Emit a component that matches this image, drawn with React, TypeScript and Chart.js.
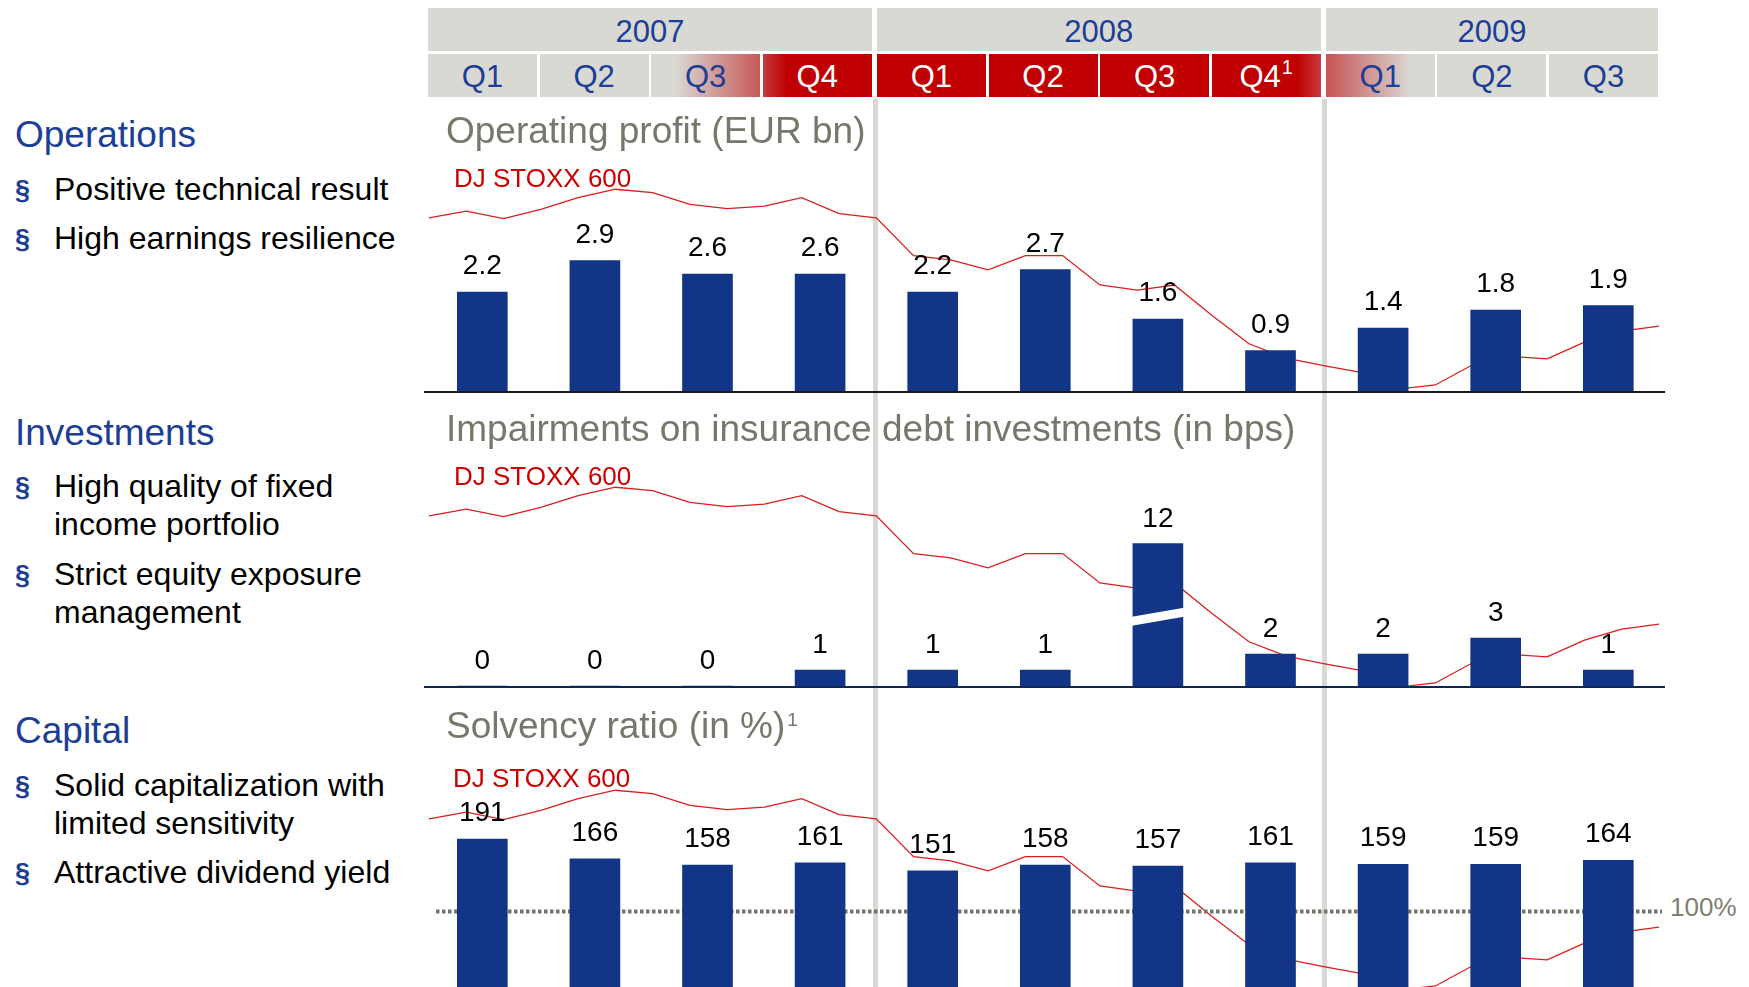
import React, { useEffect, useRef } from "react";
import { Chart, registerables } from "chart.js";

Chart.register(...registerables);

// ---------------- data ----------------
const years = ["2007", "2008", "2009"];
const quarters = ["Q1", "Q2", "Q3", "Q4", "Q1", "Q2", "Q3", "Q4", "Q1", "Q2", "Q3"];
const quarterNotes = ["", "", "", "", "", "", "", "1", "", "", ""];
const quarterYear = [0, 0, 0, 0, 1, 1, 1, 1, 2, 2, 2];
const categories = quarters.map((q, i) => `${years[quarterYear[i]]} ${q}`);

const operatingProfit = [2.2, 2.9, 2.6, 2.6, 2.2, 2.7, 1.6, 0.9, 1.4, 1.8, 1.9];
const impairments = [0, 0, 0, 1, 1, 1, 12, 2, 2, 3, 1];
const solvency = [191, 166, 158, 161, 151, 158, 157, 161, 159, 159, 164];
const solvencyThreshold = 100;
const impairmentAxisBreakCap = 8.9;

const djMonths = [
  "Dec 06",
  "Jan 07", "Feb 07", "Mar 07", "Apr 07", "May 07", "Jun 07", "Jul 07", "Aug 07", "Sep 07", "Oct 07", "Nov 07", "Dec 07",
  "Jan 08", "Feb 08", "Mar 08", "Apr 08", "May 08", "Jun 08", "Jul 08", "Aug 08", "Sep 08", "Oct 08", "Nov 08", "Dec 08",
  "Jan 09", "Feb 09", "Mar 09", "Apr 09", "May 09", "Jun 09", "Jul 09", "Aug 09", "Sep 09",
];
const djStoxx600 = [
  365,
  373, 364, 375, 389, 399, 395, 381, 376, 379, 389, 370, 365,
  320, 315, 303, 320, 320, 285, 279, 285, 249, 215, 198, 189,
  181, 161, 166, 190, 200, 197, 217, 230, 236,
];

// ---------------- layout / style ----------------
const PAGE_W = 1749;
const PAGE_H = 987;
const PLOT_LEFT = 426;
const PLOT_RIGHT = 1664.6;
const CANVAS_LEFT = 420;
const CANVAS_W = 1250;
const FONT = '"Liberation Sans", Arial, Helvetica, sans-serif';
const BAR_COLOR = "#133587";
const LINE_COLOR = "#d81e1e";
const HDR_GREY = "#d9d9d4";
const HDR_RED = "#c00000";
const BLUE = "#1d3e95";
const TITLE_GREY = "#77776b";
const DJ_RED = "#cc0000";
const DJ_REF = 160;
const DJ_PX_PER_UNIT = 0.84;

type PanelSpec = {
  values: number[];
  cap?: number;
  decimals: number;
  canvasTop: number;
  canvasH: number;
  areaTop: number;
  areaBottom: number;
  pxPerUnit: number;
  djRefY: number;
  labelGap: number;
  baseline?: string;
  threshold?: number;
};

const panels: PanelSpec[] = [
  {
    values: operatingProfit, decimals: 1, canvasTop: 95, canvasH: 305, areaTop: 100, areaBottom: 391,
    pxPerUnit: 45, djRefY: 390, labelGap: 18, baseline: "#1b1b1b",
  },
  {
    values: impairments, cap: impairmentAxisBreakCap, decimals: 0, canvasTop: 390, canvasH: 310, areaTop: 395,
    areaBottom: 686, pxPerUnit: 16, djRefY: 688, labelGap: 17, baseline: "#0e2656",
  },
  {
    values: solvency, decimals: 0, canvasTop: 685, canvasH: 310, areaTop: 690, areaBottom: 990,
    pxPerUnit: 0.79, djRefY: 991, labelGap: 18, threshold: solvencyThreshold,
  },
];

function padding(spec: PanelSpec) {
  return {
    left: PLOT_LEFT - CANVAS_LEFT,
    right: CANVAS_LEFT + CANVAS_W - PLOT_RIGHT,
    top: spec.areaTop - spec.canvasTop,
    bottom: spec.canvasTop + spec.canvasH - spec.areaBottom,
  };
}

const canvasStyle = (spec: PanelSpec): React.CSSProperties => ({
  position: "absolute",
  left: CANVAS_LEFT,
  top: spec.canvasTop,
  width: CANVAS_W,
  height: spec.canvasH,
});

function LinePanel({ spec }: { spec: PanelSpec }) {
  const ref = useRef<HTMLCanvasElement>(null);
  useEffect(() => {
    const canvas = ref.current;
    if (!canvas) return;
    const djMin = DJ_REF - (spec.areaBottom - spec.djRefY) / DJ_PX_PER_UNIT;
    const djMax = DJ_REF + (spec.djRefY - spec.areaTop) / DJ_PX_PER_UNIT;
    const monthStep = 1230 / (djMonths.length - 1);
    const xMin = -(429 - PLOT_LEFT) / monthStep;
    const xMax = djMonths.length - 1 + (PLOT_RIGHT - 1659) / monthStep;
    const chart = new Chart(canvas, {
      type: "line",
      data: {
        datasets: [
          {
            label: "DJ STOXX 600",
            data: djStoxx600.map((v, i) => ({ x: i, y: v })),
            borderColor: LINE_COLOR,
            borderWidth: 1.3,
            pointRadius: 0,
            tension: 0,
            fill: false,
            clip: false,
          } as any,
        ],
      },
      options: {
        responsive: false,
        animation: false,
        devicePixelRatio: 1,
        events: [],
        layout: { padding: padding(spec), autoPadding: false },
        plugins: { legend: { display: false }, tooltip: { enabled: false } },
        scales: {
          x: { type: "linear", display: false, min: xMin, max: xMax, offset: false },
          y: { type: "linear", display: false, min: djMin, max: djMax },
        },
      } as any,
    });
    return () => chart.destroy();
  }, []);
  return <canvas ref={ref} width={CANVAS_W} height={spec.canvasH} style={canvasStyle(spec)} />;
}

function BarPanel({ spec }: { spec: PanelSpec }) {
  const ref = useRef<HTMLCanvasElement>(null);
  useEffect(() => {
    const canvas = ref.current;
    if (!canvas) return;
    const yMax = (spec.areaBottom - spec.areaTop) / spec.pxPerUnit;
    const shown = spec.values.map((v) => (spec.cap != null ? Math.min(v, spec.cap) : v));
    const ox = CANVAS_LEFT;

    const decor = {
      id: "panelDecor",
      beforeDatasetsDraw(chart: any) {
        if (spec.threshold == null) return;
        const ctx = chart.ctx;
        const y = chart.scales.y.getPixelForValue(spec.threshold) + 0.5;
        ctx.save();
        ctx.setLineDash([3.5, 2.5]);
        ctx.lineWidth = 4;
        ctx.strokeStyle = "#74746a";
        ctx.beginPath();
        ctx.moveTo(436 - ox, y);
        ctx.lineTo(1662 - ox, y);
        ctx.stroke();
        ctx.restore();
      },
      afterDatasetsDraw(chart: any) {
        const ctx = chart.ctx;
        const ys = chart.scales.y;
        const meta = chart.getDatasetMeta(0);
        ctx.save();
        if (spec.baseline) {
          ctx.fillStyle = spec.baseline;
          ctx.fillRect(424 - ox, ys.getPixelForValue(0), 1665 - 424, 2);
        }
        if (spec.cap != null) {
          spec.values.forEach((v, i) => {
            if (v <= (spec.cap as number)) return;
            const el = meta.data[i];
            const xl = el.x - el.width / 2 - 1;
            const xr = el.x + el.width / 2 + 1;
            ctx.fillStyle = "#ffffff";
            ctx.beginPath();
            ctx.moveTo(xl, ys.getPixelForValue(3.77));
            ctx.lineTo(xr, ys.getPixelForValue(4.33));
            ctx.lineTo(xr, ys.getPixelForValue(4.89));
            ctx.lineTo(xl, ys.getPixelForValue(4.33));
            ctx.closePath();
            ctx.fill();
          });
        }
        ctx.fillStyle = "#000000";
        ctx.font = `28px ${FONT}`;
        ctx.textAlign = "center";
        ctx.textBaseline = "alphabetic";
        spec.values.forEach((v, i) => {
          const el = meta.data[i];
          ctx.fillText(v.toFixed(spec.decimals), el.x, el.y - spec.labelGap);
        });
        ctx.restore();
      },
    };

    const chart = new Chart(canvas, {
      type: "bar",
      data: {
        labels: categories,
        datasets: [
          {
            data: shown,
            backgroundColor: BAR_COLOR,
            borderWidth: 0,
            barThickness: 50,
          } as any,
        ],
      },
      options: {
        responsive: false,
        animation: false,
        devicePixelRatio: 1,
        events: [],
        layout: { padding: padding(spec), autoPadding: false },
        plugins: { legend: { display: false }, tooltip: { enabled: false } },
        scales: {
          x: { type: "category", display: false, offset: true, grid: { offset: true } },
          y: { type: "linear", display: false, min: 0, max: yMax },
        },
      } as any,
      plugins: [decor],
    });
    return () => chart.destroy();
  }, []);
  return <canvas ref={ref} width={CANVAS_W} height={spec.canvasH} style={canvasStyle(spec)} />;
}

function Txt(props: {
  x: number; base: number; size: number; color: string; children: React.ReactNode;
  width?: number; align?: "left" | "center"; weight?: string;
}) {
  const { x, base, size, color, children, width, align, weight } = props;
  return (
    <div
      style={{
        position: "absolute",
        left: x,
        top: base - 0.8465 * size,
        width,
        fontSize: size,
        lineHeight: `${size}px`,
        color,
        whiteSpace: "nowrap",
        textAlign: align || "left",
        fontWeight: weight || "normal",
      }}
    >
      {children}
    </div>
  );
}

const cellLeft = (i: number) => 428 + 111.6 * i + 2.5 * quarterYear[i];
const CELL_W = 109;

function headerFill(i: number): string {
  if (i === 2) return `linear-gradient(to right, ${HDR_GREY} 22%, #c75959 100%)`;
  if (i === 3) return `linear-gradient(to right, #c33c3c 0%, ${HDR_RED} 22%)`;
  if (i >= 4 && i <= 6) return HDR_RED;
  if (i === 7) return `linear-gradient(to right, ${HDR_RED} 78%, #c73c3c 100%)`;
  if (i === 8) return `linear-gradient(to right, #c75252 0%, ${HDR_GREY} 78%)`;
  return HDR_GREY;
}

const sections = [
  { title: "Operations", base: 147, bullets: [{ base: 200, lines: ["Positive technical result"] }, { base: 249, lines: ["High earnings resilience"] }] },
  { title: "Investments", base: 445, bullets: [{ base: 497, lines: ["High quality of fixed", "income portfolio"] }, { base: 585, lines: ["Strict equity exposure", "management"] }] },
  { title: "Capital", base: 743, bullets: [{ base: 796, lines: ["Solid capitalization with", "limited sensitivity"] }, { base: 883, lines: ["Attractive dividend yield"] }] },
];

export default function App() {
  return (
    <div
      style={{
        position: "fixed",
        left: 0,
        top: 0,
        width: PAGE_W,
        height: PAGE_H,
        overflow: "hidden",
        background: "#ffffff",
        fontFamily: FONT,
      }}
    >
      {/* year dividers */}
      <div style={{ position: "absolute", left: 873, top: 99, width: 5, height: 900, background: "#d8d8d4" }} />
      <div style={{ position: "absolute", left: 1321.5, top: 99, width: 5, height: 900, background: "#d8d8d4" }} />

      {/* header years */}
      {years.map((y, yi) => {
        const idx = quarterYear.map((q, i) => (q === yi ? i : -1)).filter((i) => i >= 0);
        const l = cellLeft(idx[0]);
        const r = cellLeft(idx[idx.length - 1]) + CELL_W;
        return (
          <React.Fragment key={y}>
            <div style={{ position: "absolute", left: l, top: 8, width: r - l, height: 43, background: HDR_GREY }} />
            <Txt x={l} width={r - l} align="center" base={42} size={31} color={BLUE}>{y}</Txt>
          </React.Fragment>
        );
      })}
      {/* header quarters */}
      {quarters.map((q, i) => {
        const red = i >= 3 && i <= 7;
        return (
          <React.Fragment key={i}>
            <div style={{ position: "absolute", left: cellLeft(i), top: 53.5, width: CELL_W, height: 43, background: headerFill(i) }} />
            <Txt x={cellLeft(i)} width={CELL_W} align="center" base={87} size={31} color={red ? "#ffffff" : BLUE}>
              {q}
              {quarterNotes[i] ? (
                <span style={{ fontSize: 20, position: "relative", top: -13, marginLeft: 1 }}>{quarterNotes[i]}</span>
              ) : null}
            </Txt>
          </React.Fragment>
        );
      })}

      {/* left column */}
      {sections.map((s) => (
        <React.Fragment key={s.title}>
          <Txt x={15} base={s.base} size={37} color={BLUE}>{s.title}</Txt>
          {s.bullets.map((b, bi) => (
            <React.Fragment key={bi}>
              <Txt x={15} base={b.base} size={27} color={BLUE} weight="bold">§</Txt>
              {b.lines.map((ln, li) => (
                <Txt key={li} x={54} base={b.base + li * 38.5} size={32} color="#000000">{ln}</Txt>
              ))}
            </React.Fragment>
          ))}
        </React.Fragment>
      ))}

      {/* charts: DJ STOXX line behind, bars on top */}
      {panels.map((p, i) => (
        <LinePanel key={`l${i}`} spec={p} />
      ))}
      {panels.map((p, i) => (
        <BarPanel key={`b${i}`} spec={p} />
      ))}

      {/* panel titles */}
      <Txt x={446} base={143} size={37} color={TITLE_GREY}>Operating profit (EUR bn)</Txt>
      <Txt x={454} base={187} size={26} color={DJ_RED}>DJ STOXX 600</Txt>
      <Txt x={446} base={441} size={37} color={TITLE_GREY}>Impairments on insurance debt investments (in bps)</Txt>
      <Txt x={454} base={485} size={26} color={DJ_RED}>DJ STOXX 600</Txt>
      <Txt x={446} base={738} size={37} color={TITLE_GREY}>
        Solvency ratio (in %)
        <span style={{ fontSize: 19, position: "relative", top: -12, marginLeft: 2 }}>1</span>
      </Txt>
      <Txt x={453} base={787} size={26} color={DJ_RED}>DJ STOXX 600</Txt>
      <Txt x={1670} base={916} size={26} color="#7f7f70">100%</Txt>
    </div>
  );
}
